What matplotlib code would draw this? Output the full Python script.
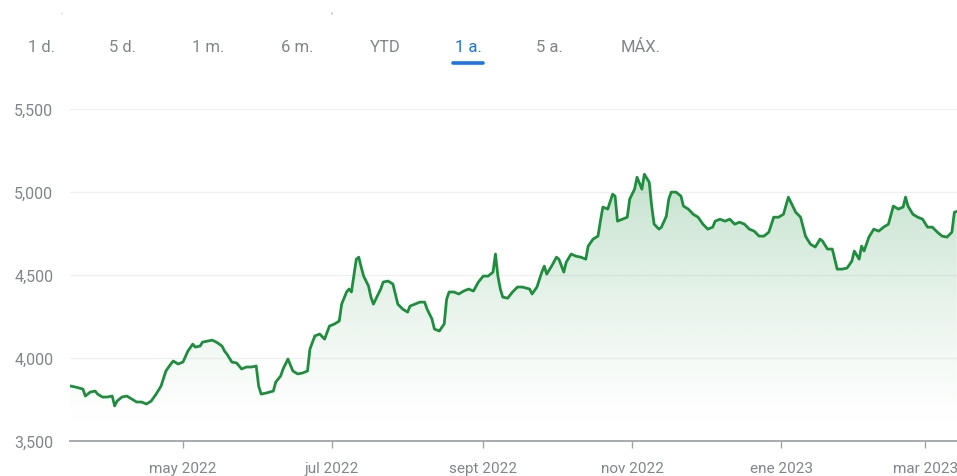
import matplotlib
matplotlib.use("Agg")
import matplotlib.pyplot as plt
import matplotlib.dates as mdates
import numpy as np
import pandas as pd

# Closing values over the last year
dates = [
    "2022-03-16", "2022-03-18", "2022-03-21", "2022-03-22", "2022-03-24", "2022-03-26",
    "2022-03-27", "2022-03-29", "2022-03-31", "2022-04-02", "2022-04-03", "2022-04-04",
    "2022-04-06", "2022-04-08", "2022-04-10", "2022-04-12", "2022-04-14", "2022-04-16",
    "2022-04-18", "2022-04-20", "2022-04-22", "2022-04-24", "2022-04-26", "2022-04-27",
    "2022-04-29", "2022-05-01", "2022-05-03", "2022-05-05", "2022-05-06", "2022-05-08",
    "2022-05-09", "2022-05-11", "2022-05-13", "2022-05-15", "2022-05-17", "2022-05-18",
    "2022-05-19", "2022-05-21", "2022-05-23", "2022-05-25", "2022-05-27", "2022-05-29",
    "2022-05-31", "2022-06-01", "2022-06-02", "2022-06-04", "2022-06-07", "2022-06-08",
    "2022-06-10", "2022-06-11", "2022-06-13", "2022-06-15", "2022-06-17", "2022-06-19",
    "2022-06-21", "2022-06-22", "2022-06-24", "2022-06-26", "2022-06-28", "2022-06-30",
    "2022-07-02", "2022-07-04", "2022-07-05", "2022-07-07", "2022-07-08", "2022-07-09",
    "2022-07-11", "2022-07-12", "2022-07-13", "2022-07-14", "2022-07-16", "2022-07-17",
    "2022-07-18", "2022-07-19", "2022-07-21", "2022-07-22", "2022-07-24", "2022-07-26",
    "2022-07-27", "2022-07-28", "2022-07-30", "2022-08-01", "2022-08-02", "2022-08-04",
    "2022-08-06", "2022-08-08", "2022-08-09", "2022-08-11", "2022-08-12", "2022-08-14",
    "2022-08-16", "2022-08-17", "2022-08-18", "2022-08-20", "2022-08-22", "2022-08-24",
    "2022-08-26", "2022-08-28", "2022-08-30", "2022-09-01", "2022-09-03", "2022-09-05",
    "2022-09-06", "2022-09-07", "2022-09-08", "2022-09-09", "2022-09-11", "2022-09-13",
    "2022-09-15", "2022-09-17", "2022-09-20", "2022-09-21", "2022-09-23", "2022-09-25",
    "2022-09-26", "2022-09-27", "2022-09-29", "2022-10-01", "2022-10-02", "2022-10-04",
    "2022-10-05", "2022-10-07", "2022-10-09", "2022-10-11", "2022-10-13", "2022-10-14",
    "2022-10-16", "2022-10-18", "2022-10-19", "2022-10-20", "2022-10-22", "2022-10-24",
    "2022-10-25", "2022-10-26", "2022-10-28", "2022-10-30", "2022-10-31", "2022-11-02",
    "2022-11-03", "2022-11-05", "2022-11-06", "2022-11-08", "2022-11-09", "2022-11-10",
    "2022-11-12", "2022-11-13", "2022-11-15", "2022-11-16", "2022-11-17", "2022-11-19",
    "2022-11-21", "2022-11-22", "2022-11-24", "2022-11-26", "2022-11-28", "2022-11-30",
    "2022-12-02", "2022-12-04", "2022-12-05", "2022-12-07", "2022-12-09", "2022-12-11",
    "2022-12-13", "2022-12-15", "2022-12-17", "2022-12-19", "2022-12-21", "2022-12-23",
    "2022-12-25", "2022-12-27", "2022-12-29", "2022-12-31", "2023-01-02", "2023-01-04",
    "2023-01-05", "2023-01-07", "2023-01-09", "2023-01-11", "2023-01-13", "2023-01-15",
    "2023-01-17", "2023-01-18", "2023-01-20", "2023-01-22", "2023-01-24", "2023-01-26",
    "2023-01-28", "2023-01-30", "2023-01-31", "2023-02-02", "2023-02-03", "2023-02-04",
    "2023-02-06", "2023-02-08", "2023-02-10", "2023-02-12", "2023-02-14", "2023-02-16",
    "2023-02-18", "2023-02-20", "2023-02-21", "2023-02-22", "2023-02-24", "2023-02-26",
    "2023-02-28", "2023-03-02", "2023-03-04", "2023-03-06", "2023-03-08", "2023-03-10",
    "2023-03-12", "2023-03-13", "2023-03-14",
]
values = [
    3828, 3822, 3810, 3768, 3792, 3798,
    3780, 3762, 3762, 3768, 3708, 3738,
    3762, 3768, 3750, 3732, 3732, 3720,
    3738, 3780, 3828, 3919, 3961, 3979,
    3961, 3973, 4039, 4081, 4063, 4069,
    4093, 4099, 4105, 4090, 4069, 4039,
    4021, 3973, 3967, 3931, 3943, 3943,
    3949, 3828, 3780, 3786, 3798, 3852,
    3889, 3931, 3991, 3919, 3901, 3907,
    3919, 4051, 4130, 4142, 4111, 4190,
    4202, 4220, 4322, 4395, 4413, 4395,
    4593, 4605, 4545, 4491, 4431, 4364,
    4322, 4352, 4413, 4455, 4461, 4443,
    4383, 4322, 4292, 4274, 4310, 4322,
    4334, 4334, 4292, 4232, 4172, 4160,
    4202, 4352, 4395, 4395, 4383, 4401,
    4413, 4401, 4455, 4491, 4491, 4515,
    4624, 4491, 4413, 4364, 4358, 4395,
    4425, 4425, 4413, 4383, 4425, 4515,
    4551, 4503, 4551, 4605, 4593, 4515,
    4575, 4624, 4611, 4605, 4593, 4672,
    4714, 4732, 4822, 4907, 4895, 4985,
    4973, 4822, 4834, 4846, 4955, 5015,
    5087, 5015, 5105, 5057, 4913, 4804,
    4774, 4786, 4852, 4955, 4997, 4997,
    4973, 4913, 4895, 4864, 4846, 4804,
    4774, 4786, 4822, 4834, 4822, 4834,
    4804, 4816, 4804, 4774, 4762, 4732,
    4732, 4756, 4846, 4846, 4864, 4967,
    4937, 4876, 4846, 4732, 4684, 4666,
    4714, 4702, 4654, 4654, 4533, 4533,
    4539, 4581, 4642, 4593, 4672, 4642,
    4726, 4774, 4762, 4786, 4804, 4913,
    4895, 4907, 4967, 4913, 4864, 4846,
    4834, 4786, 4786, 4756, 4732, 4726,
    4756, 4876, 4880,
]

range_labels = ["1 d.", "5 d.", "1 m.", "6 m.", "YTD", "1 a.", "5 a.", "MÁX."]
selected_range = "1 a."
x_tick_dates = ["2022-05-01", "2022-07-01", "2022-09-01", "2022-11-01", "2023-01-01", "2023-03-01"]
x_tick_labels = ["may 2022", "jul 2022", "sept 2022", "nov 2022", "ene 2023", "mar 2023"]
y_ticks = [3500, 4000, 4500, 5000, 5500]

LINE = "#1e8e3e"
TEXT_GREY = "#80868b"
BLUE = "#1a73e8"
FONT = ["Roboto", "DejaVu Sans"]

plt.rcParams["font.family"] = FONT

x = mdates.date2num(pd.to_datetime(dates))
y = np.array(values, dtype=float)

W, H = 957, 477
fig = plt.figure(figsize=(W / 100, H / 100), dpi=100)
fig.patch.set_facecolor("white")

ax_left, ax_right = 70, 957
ax_top, ax_bottom = 109.7, 441.5
ax = fig.add_axes([ax_left / W, (H - ax_bottom) / H,
                   (ax_right - ax_left) / W, (ax_bottom - ax_top) / H])

x0 = mdates.date2num(pd.Timestamp("2022-03-15 17:00"))
x1 = mdates.date2num(pd.Timestamp("2023-03-14 02:00"))
ax.set_xlim(x0, x1)
ax.set_ylim(3500, 5500)

# faint horizontal gridlines
for v in y_ticks[1:]:
    ax.axhline(v, color="#f0f0f0", lw=1.0, zorder=0)

# gradient area below the line
poly = ax.fill_between(x, y, 3500, facecolor="none", edgecolor="none", zorder=1)
ramp = np.linspace(0, 1, 300)[:, None]
vals = 3500 + ramp * 2000
alpha = np.clip((vals - 3550) / (5100 - 3550), 0, 1) ** 1.3 * 0.26
rgba = np.zeros((300, 1, 4))
rgba[..., 0] = 0x1e / 255
rgba[..., 1] = 0x8e / 255
rgba[..., 2] = 0x3e / 255
rgba[..., 3] = alpha
im = ax.imshow(rgba, extent=[x0, x1, 3500, 5500], origin="lower",
               aspect="auto", interpolation="bilinear", zorder=1)
im.set_clip_path(poly.get_paths()[0], transform=ax.transData)

ax.plot(x, y, color=LINE, lw=2.0, solid_joinstyle="round", zorder=3)

# axes decoration
for s in ("top", "right", "left"):
    ax.spines[s].set_visible(False)
ax.spines["bottom"].set_color("#a0a4a8")
ax.spines["bottom"].set_linewidth(1.3)

ax.set_xticks(mdates.date2num(pd.to_datetime(x_tick_dates)))
ax.set_xticklabels(x_tick_labels)
ax.tick_params(axis="x", length=5, width=1, color="#a0a4a8", pad=10,
               labelsize=11, labelcolor=TEXT_GREY, direction="out")

ax.set_yticks(y_ticks)
ax.set_yticklabels([f"{v:,}" for v in y_ticks])
ax.tick_params(axis="y", length=0, pad=12, labelsize=11.5, labelcolor=TEXT_GREY)

# range selector
centers = [41, 122, 208, 297, 385, 468, 549, 641]
for lab, cx in zip(range_labels, centers):
    col = BLUE if lab == selected_range else TEXT_GREY
    fig.text(cx / W, 1 - 48 / H, lab, ha="center", va="center",
             fontsize=12, color=col)
    if lab == selected_range:
        fig.add_artist(plt.Line2D([(cx - 15) / W, (cx + 15) / W],
                                  [1 - 64 / H, 1 - 64 / H],
                                  color=BLUE, lw=2.6, solid_capstyle="round"))

# small marks left over from the header above
fig.text(61 / W, 1 - 16 / H, "'", ha="center", va="center", fontsize=8, color="#c8c8c8")
fig.text(331 / W, 1 - 16 / H, "'", ha="center", va="center", fontsize=8, color="#9a9a9a")

fig.savefig("out.png", dpi=100, facecolor="white")
